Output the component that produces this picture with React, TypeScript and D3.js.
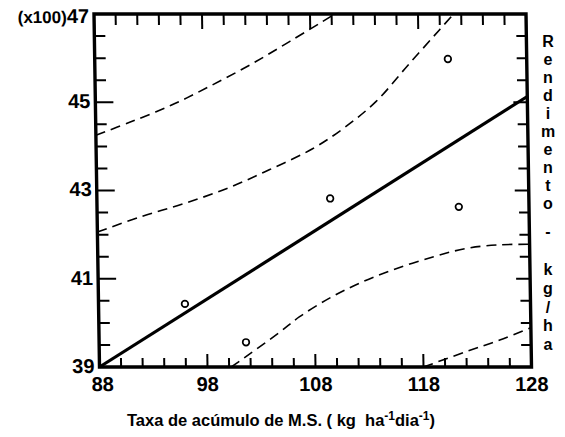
import React from 'react';
import * as d3 from 'd3';

// observed points (taxa de acúmulo, rendimento x100)
const pointX = [96.0, 101.6, 109.6, 120.7, 121.5];
const pointY = [40.43, 39.56, 42.82, 45.98, 42.63];

// fitted regression line
const fitX = [88, 128];
const fitY = [39, 45.13];

// dashed bands
const upperOuterX = [88, 91.2, 95.0, 98.6, 102.4, 106.1, 109.9, 110.3];
const upperOuterY = [44.25, 44.55, 44.93, 45.36, 45.85, 46.38, 46.94, 47.0];
const upperInnerX = [88, 92, 96, 100, 104, 108, 111, 114, 117, 120, 121.3];
const upperInnerY = [42.06, 42.4, 42.7, 43.04, 43.47, 43.94, 44.42, 45.02, 45.84, 46.65, 47.0];
const lowerInnerX = [100.2, 102.0, 104.8, 106.6, 109.4, 112.2, 115.3, 119.1, 122.2, 125.3, 128];
const lowerInnerY = [39.0, 39.31, 39.8, 40.14, 40.56, 40.9, 41.2, 41.5, 41.69, 41.77, 41.78];
const lowerOuterX = [118.0, 122.0, 125.1, 128];
const lowerOuterY = [39.0, 39.35, 39.61, 39.89];

// tick labels
const xTickLabels = [88, 98, 108, 118, 128];
const yTickLabels = [39, 41, 43, 45, 47];
const yTopPrefix = '(x100)';
const xTitle = 'Taxa de acúmulo de M.S. ( kg  ha';
const rightTitleA = 'Rendimento';
const rightTitleB = 'kg/ha';

const W = 565;
const H = 437;
const left = 94, right = 526, top = 14, bottom = 367;
const shear = 5.5 / (bottom - top); // the scanned frame leans a little

const font = '"Liberation Sans", Arial, sans-serif';

export default function App() {
  const x = d3.scaleLinear().domain([88, 128]).range([left, right]);
  const y = d3.scaleLinear().domain([39, 47]).range([bottom, top]);

  const line = d3.line<[number, number]>()
    .x(d => x(d[0]))
    .y(d => y(d[1]))
    .curve(d3.curveCatmullRom.alpha(0.5));

  const bands = [
    d3.zip(upperOuterX, upperOuterY),
    d3.zip(upperInnerX, upperInnerY),
    d3.zip(lowerInnerX, lowerInnerY),
    d3.zip(lowerOuterX, lowerOuterY),
  ] as [number, number][][];

  const xTicks = x.ticks(20);
  const yTicks = y.ticks(16);

  // stacked letters of the right-hand title
  const stacked = [
    ...rightTitleA.split('').map((c, i) => ({ c, y: 47 + i * 18 })),
    { c: '-', y: 237 },
    ...rightTitleB.split('').map((c, i) => ({ c, y: 275 + i * 18.75 })),
  ];

  return (
    <div style={{ position: 'absolute', left: 0, top: 0 }}>
      <svg width={W} height={H} style={{ display: 'block', background: '#fff' }}>
        <defs>
          <clipPath id="plot">
            <rect x={left} y={top} width={right - left} height={bottom - top} />
          </clipPath>
        </defs>

        <g transform={`matrix(1,0,${shear},1,${-shear * top},0)`}>
          {/* dashed bands */}
          <g clipPath="url(#plot)" fill="none" stroke="#000" strokeWidth={1.6} strokeDasharray="10,6">
            {bands.map((b, i) => <path key={i} d={line(b) || ''} />)}
          </g>

          {/* regression line */}
          <path d={line(d3.zip(fitX, fitY) as [number, number][]) || ''}
            fill="none" stroke="#000" strokeWidth={3.2} />

          {/* observed points */}
          {pointX.map((px, i) => (
            <circle key={i} cx={x(px)} cy={y(pointY[i])} r={3.3}
              fill="#fff" stroke="#000" strokeWidth={1.7} />
          ))}

          {/* ticks, all pointing inward */}
          <g stroke="#000" strokeWidth={2}>
            {xTicks.map(t => {
              const major = xTickLabels.includes(t);
              return (
                <g key={'x' + t}>
                  <line x1={x(t)} x2={x(t)} y1={bottom} y2={bottom - (major ? 13 : 9)} />
                  <line x1={x(t)} x2={x(t)} y1={top} y2={top + (major ? 15 : 11)} />
                </g>
              );
            })}
            {yTicks.map(t => {
              const major = yTickLabels.includes(t);
              return (
                <g key={'y' + t}>
                  <line x1={left} x2={left + (major ? 18 : 11)} y1={y(t)} y2={y(t)} />
                  <line x1={right} x2={right - (major ? 14 : 10)} y1={y(t)} y2={y(t)} />
                </g>
              );
            })}
          </g>

          {/* frame */}
          <rect x={left} y={top} width={right - left} height={bottom - top}
            fill="none" stroke="#000" strokeWidth={3.4} />

          {/* tick labels */}
          <g fontFamily={font} fontWeight="bold" fontSize={20} fill="#000">
            {xTickLabels.map(t => (
              <text key={'xl' + t} x={x(t) + (t === 88 ? 3 : 0)} y={bottom + 24} textAnchor="middle">{t}</text>
            ))}
            {yTickLabels.map(t => (
              <text key={'yl' + t} x={left - 5} y={y(t) + (t === 47 ? 9 : 6)} textAnchor="end">
                {t === 47 ? <tspan fontSize={17}>{yTopPrefix}</tspan> : null}{t}
              </text>
            ))}
          </g>
        </g>

        {/* x title */}
        <text x={281} y={426} textAnchor="middle" fontFamily={font} fontWeight="bold" fontSize={16.5}
          style={{ whiteSpace: 'pre' }}>
          {xTitle}
          <tspan dy={-6} fontSize={12}>-1</tspan>
          <tspan dy={6}>dia</tspan>
          <tspan dy={-6} fontSize={12}>-1</tspan>
          <tspan dy={6}>)</tspan>
        </text>

        {/* right title, letters stacked in one text */}
        <text fontFamily={font} fontWeight="bold" fontSize={16} textAnchor="middle">
          {stacked.map((s, i) => (
            <tspan key={i} x={548} y={s.y}>{s.c}</tspan>
          ))}
        </text>
      </svg>
    </div>
  );
}
